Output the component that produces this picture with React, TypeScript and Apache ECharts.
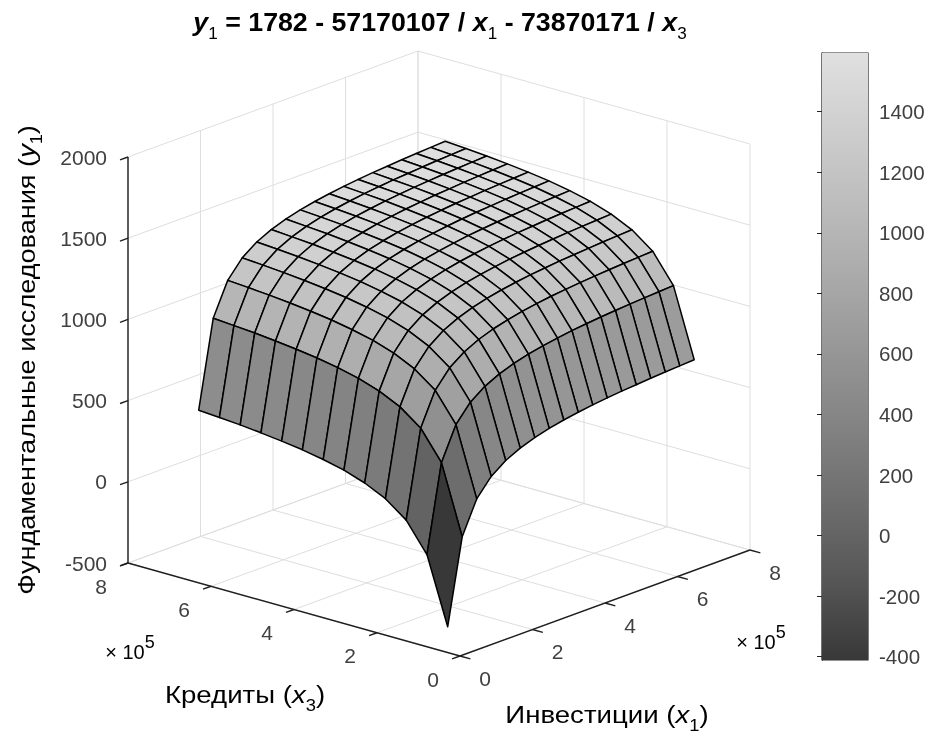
import React, { useEffect, useRef } from "react";
import * as echarts from "echarts";

const x1Values = [48500, 88500, 128500, 168500, 208500, 248500, 288500, 328500, 368500, 408500, 448500, 488500, 528500, 568500, 608500, 648500, 688500, 728500];
const x3Values = [72000, 122000, 172000, 222000, 272000, 322000, 372000, 422000, 472000, 522000, 572000, 622000, 672000];
// one row per x3 value, one column per x1 value
const zRow0 = [-411, 110, 311, 417, 482, 526, 558, 582, 601, 616, 629, 639, 648, 655, 662, 668, 673, 678];
const zRow1 = [-2, 531, 732, 838, 903, 947, 979, 1003, 1022, 1037, 1050, 1060, 1069, 1076, 1083, 1089, 1094, 1099];
const zRow2 = [174, 707, 908, 1014, 1079, 1123, 1155, 1179, 1198, 1213, 1226, 1236, 1245, 1252, 1259, 1265, 1270, 1275];
const zRow3 = [270, 803, 1004, 1110, 1175, 1219, 1251, 1275, 1294, 1309, 1322, 1332, 1341, 1348, 1355, 1361, 1366, 1371];
const zRow4 = [331, 864, 1065, 1171, 1236, 1280, 1312, 1336, 1355, 1370, 1383, 1393, 1402, 1409, 1416, 1422, 1427, 1432];
const zRow5 = [374, 907, 1108, 1214, 1279, 1323, 1355, 1379, 1398, 1413, 1426, 1436, 1445, 1452, 1459, 1465, 1470, 1475];
const zRow6 = [404, 937, 1138, 1244, 1309, 1353, 1385, 1409, 1428, 1443, 1456, 1466, 1475, 1482, 1489, 1495, 1500, 1505];
const zRow7 = [428, 961, 1162, 1268, 1333, 1377, 1409, 1433, 1452, 1467, 1480, 1490, 1499, 1506, 1513, 1519, 1524, 1529];
const zRow8 = [446, 979, 1180, 1286, 1351, 1395, 1427, 1451, 1470, 1485, 1498, 1508, 1517, 1524, 1531, 1537, 1542, 1547];
const zRow9 = [461, 994, 1195, 1301, 1366, 1410, 1442, 1466, 1485, 1500, 1513, 1523, 1532, 1539, 1546, 1552, 1557, 1562];
const zRow10 = [474, 1007, 1208, 1314, 1379, 1423, 1455, 1479, 1498, 1513, 1526, 1536, 1545, 1552, 1559, 1565, 1570, 1575];
const zRow11 = [484, 1017, 1218, 1324, 1389, 1433, 1465, 1489, 1508, 1523, 1536, 1546, 1555, 1562, 1569, 1575, 1580, 1585];
const zRow12 = [493, 1026, 1227, 1333, 1398, 1442, 1474, 1498, 1517, 1532, 1545, 1555, 1564, 1571, 1578, 1584, 1589, 1594];
const zRows = [zRow0, zRow1, zRow2, zRow3, zRow4, zRow5, zRow6, zRow7, zRow8, zRow9, zRow10, zRow11, zRow12];

const x1Ticks = [0, 200000, 400000, 600000, 800000];
const x3Ticks = [0, 200000, 400000, 600000, 800000];
const zTicks = [-500, 0, 500, 1000, 1500, 2000];
const colorbarTicks = [-400, -200, 0, 200, 400, 600, 800, 1000, 1200, 1400];
const colorMin = -411;
const colorMax = 1594;

const FONT = "'Liberation Sans', Arial, sans-serif";
const TEXT = "#404040";
const AXIS_MAX = 800000;
const Z_MIN = -500;
const Z_MAX = 2000;

function project(x1: number, x3: number, z: number): number[] {
  const a = x1 / AXIS_MAX;
  const b = x3 / AXIS_MAX;
  return [460 + 290 * a - 332 * b, 656 - 106 * a - 93 * b - ((z - Z_MIN) / 2500) * 406];
}

function gray(z: number): string {
  const t = Math.max(0, Math.min(1, (z - colorMin) / (colorMax - colorMin)));
  const v = Math.round(56 + Math.pow(t, 0.85) * 168);
  return `rgb(${v},${v},${v})`;
}

const gridSegments: number[][] = [];
x1Ticks.forEach((t) => {
  gridSegments.push([t, 0, Z_MIN, t, AXIS_MAX, Z_MIN]);
  gridSegments.push([t, AXIS_MAX, Z_MIN, t, AXIS_MAX, Z_MAX]);
});
x3Ticks.forEach((t) => {
  gridSegments.push([0, t, Z_MIN, AXIS_MAX, t, Z_MIN]);
  gridSegments.push([AXIS_MAX, t, Z_MIN, AXIS_MAX, t, Z_MAX]);
});
zTicks.forEach((t) => {
  gridSegments.push([0, AXIS_MAX, t, AXIS_MAX, AXIS_MAX, t]);
  gridSegments.push([AXIS_MAX, 0, t, AXIS_MAX, AXIS_MAX, t]);
});

const axisSegments: number[][] = [
  [0, 0, Z_MIN, AXIS_MAX, 0, Z_MIN],
  [0, 0, Z_MIN, 0, AXIS_MAX, Z_MIN],
  [0, AXIS_MAX, Z_MIN, 0, AXIS_MAX, Z_MAX],
];
x1Ticks.forEach((t) => axisSegments.push([t, 0, Z_MIN, t, -25000, Z_MIN]));
x3Ticks.forEach((t) => axisSegments.push([0, t, Z_MIN, -22000, t, Z_MIN]));
zTicks.forEach((t) => axisSegments.push([0, AXIS_MAX, t, -22000, AXIS_MAX, t]));

const cells: number[][] = [];
for (let j = x3Values.length - 2; j >= 0; j--) {
  for (let i = x1Values.length - 2; i >= 0; i--) {
    cells.push([
      x1Values[i], x3Values[j], x1Values[i + 1], x3Values[j + 1],
      zRows[j][i], zRows[j][i + 1], zRows[j + 1][i + 1], zRows[j + 1][i],
    ]);
  }
}

const segmentSeries = (data: number[][], color: string, width: number) => ({
  type: "custom",
  xAxisIndex: 0,
  yAxisIndex: 0,
  clip: false,
  silent: true,
  data,
  renderItem: (_: any, api: any) => {
    const p = api.coord(project(api.value(0), api.value(1), api.value(2)));
    const q = api.coord(project(api.value(3), api.value(4), api.value(5)));
    return {
      type: "line",
      shape: { x1: p[0], y1: p[1], x2: q[0], y2: q[1] },
      style: { stroke: color, lineWidth: width },
    };
  },
});

const labelSeries = (data: number[][], at: (v: number) => number[], dx: number, dy: number, align: string, fmt: (v: number) => string) => ({
  type: "custom",
  xAxisIndex: 0,
  yAxisIndex: 0,
  clip: false,
  silent: true,
  data,
  renderItem: (_: any, api: any) => {
    const v = api.value(0);
    const p = api.coord(at(v));
    return {
      type: "text",
      x: p[0] + dx,
      y: p[1] + dy,
      style: { text: fmt(v), fontSize: 21, fontFamily: FONT, fill: TEXT, align, verticalAlign: "middle" },
    };
  },
});

const base = { fontFamily: FONT, fontSize: 24, color: TEXT, lineHeight: 36 };
const axisRich = {
  t: base,
  i: { ...base, fontStyle: "italic" },
  s: { ...base, fontSize: 16, verticalAlign: "bottom" },
};
const bold = { fontFamily: FONT, fontSize: 25, fontWeight: "bold", color: "#111111", lineHeight: 40 };
const titleRich = {
  t: bold,
  i: { ...bold, fontStyle: "italic" },
  s: { ...bold, fontSize: 16, fontWeight: "normal", verticalAlign: "bottom" },
};
const powerRich = {
  m: { ...base, fontSize: 20, lineHeight: 38, color: "#808080" },
  t: { ...base, fontSize: 20, lineHeight: 38 },
  u: { ...base, fontSize: 18, lineHeight: 38, verticalAlign: "top" },
};

const option: any = {
  animation: false,
  backgroundColor: "#ffffff",
  grid: [
    { left: 0, top: 0, width: 929, height: 736, show: false },
    { left: 822, top: 53, width: 46, height: 607, show: true, borderColor: "#262626", borderWidth: 1.2, backgroundColor: "transparent" },
  ],
  xAxis: [
    { type: "value", gridIndex: 0, min: 0, max: 929, show: false },
    { type: "value", gridIndex: 1, min: 0, max: 1, show: false },
  ],
  yAxis: [
    { type: "value", gridIndex: 0, min: 0, max: 736, inverse: true, show: false },
    {
      type: "value",
      gridIndex: 1,
      min: colorMin,
      max: colorMax,
      position: "right",
      splitLine: { show: false },
      axisLine: { show: true, lineStyle: { color: "#262626", width: 1.2 } },
      axisTick: { show: true, inside: true, length: 5, customValues: colorbarTicks, lineStyle: { color: "#262626" } },
      axisLabel: { show: true, customValues: colorbarTicks, margin: 11, fontSize: 20.5, fontFamily: FONT, color: TEXT, formatter: (v: number) => String(v) },
    },
  ],
  graphic: {
    elements: [
      {
        type: "text", x: 440, y: 22, scaleX: 1.07,
        style: {
          text: "{i|y}{s|1}{t| = 1782 - 57170107 / }{i|x}{s|1}{t| - 73870171 / }{i|x}{s|3}",
          rich: titleRich, align: "center", verticalAlign: "middle",
        },
      },
      {
        type: "text", x: 27, y: 360, rotation: Math.PI / 2, scaleX: 1.13,
        style: {
          text: "{t|Фундаментальные исследования (}{i|y}{s|1}{t|)}",
          rich: axisRich, align: "center", verticalAlign: "middle",
        },
      },
      {
        type: "text", x: 245, y: 695, scaleX: 1.15,
        style: { text: "{t|Кредиты (}{i|x}{s|3}{t|)}", rich: axisRich, align: "center", verticalAlign: "middle" },
      },
      {
        type: "text", x: 607, y: 715, scaleX: 1.15,
        style: { text: "{t|Инвестиции (}{i|x}{s|1}{t|)}", rich: axisRich, align: "center", verticalAlign: "middle" },
      },
      {
        type: "text", x: 130, y: 652,
        style: { text: "{m|× }{t|10}{u|5}", rich: powerRich, align: "center", verticalAlign: "middle" },
      },
      {
        type: "text", x: 761, y: 642,
        style: { text: "{m|× }{t|10}{u|5}", rich: powerRich, align: "center", verticalAlign: "middle" },
      },
    ],
  },
  series: [
    segmentSeries(gridSegments, "#dedede", 1),
    segmentSeries(axisSegments, "#1f1f1f", 1.4),
    {
      type: "custom",
      xAxisIndex: 0,
      yAxisIndex: 0,
      clip: false,
      silent: true,
      data: cells,
      renderItem: (_: any, api: any) => {
        const xa = api.value(0), ya = api.value(1), xb = api.value(2), yb = api.value(3);
        const z00 = api.value(4), z10 = api.value(5), z11 = api.value(6), z01 = api.value(7);
        return {
          type: "polygon",
          shape: {
            points: [
              api.coord(project(xa, ya, z00)),
              api.coord(project(xb, ya, z10)),
              api.coord(project(xb, yb, z11)),
              api.coord(project(xa, yb, z01)),
            ],
          },
          style: { fill: gray(z00), stroke: "#000000", lineWidth: 1.5, lineJoin: "round" },
        };
      },
    },
    labelSeries(zTicks.map((v) => [v]), (v) => project(0, AXIS_MAX, v), -21, 0, "right", String),
    labelSeries(x3Ticks.map((v) => [v]), (v) => project(0, v, Z_MIN), -27, 23, "center", (v) => String(v / 100000)),
    labelSeries(x1Ticks.map((v) => [v]), (v) => project(v, 0, Z_MIN), 25, 22, "center", (v) => String(v / 100000)),
    {
      type: "custom",
      xAxisIndex: 1,
      yAxisIndex: 1,
      silent: true,
      clip: false,
      data: [[colorMin, colorMax]],
      renderItem: (_: any, api: any) => {
        const a = api.coord([0, api.value(1)]);
        const b = api.coord([1, api.value(0)]);
        const stops = [0, 0.125, 0.25, 0.375, 0.5, 0.625, 0.75, 0.875, 1].map((o) => ({
          offset: o,
          color: gray(colorMax - o * (colorMax - colorMin)),
        }));
        return {
          type: "rect",
          shape: { x: a[0], y: a[1], width: b[0] - a[0], height: b[1] - a[1] },
          style: { fill: new echarts.graphic.LinearGradient(0, 0, 0, 1, stops) },
        };
      },
    },
  ],
};

export default function App() {
  const ref = useRef<HTMLDivElement>(null);
  useEffect(() => {
    const chart = echarts.init(ref.current!, null, { renderer: "svg" });
    chart.setOption(option);
    return () => chart.dispose();
  }, []);
  return (
    <div
      ref={ref}
      style={{ position: "absolute", left: 0, top: 0, width: 929, height: 736, filter: "blur(0.45px)" }}
    />
  );
}
